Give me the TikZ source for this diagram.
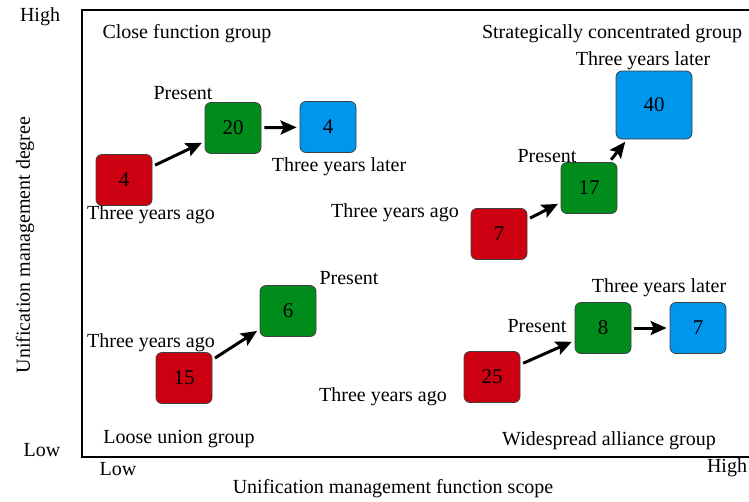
\documentclass[tikz,border=0pt]{standalone}
\usepackage{fontspec}
\setmainfont{Liberation Serif}
\usetikzlibrary{arrows.meta}
\definecolor{boxred}{RGB}{204,0,16}
\definecolor{boxgreen}{RGB}{0,140,26}
\definecolor{boxblue}{RGB}{0,150,235}

\begin{document}
\begin{tikzpicture}[x=1pt,y=-1pt,
	box/.style={draw=black!75,line width=0.8pt,rounded corners=6pt,minimum width=56pt,minimum height=51pt,inner sep=0pt,font=\fontsize{21}{21}\selectfont},
	lbl/.style={inner sep=0pt,font=\fontsize{20}{20}\selectfont},
	go/.style={-{Stealth[length=16pt,width=14pt,inset=3pt]},line width=3pt,shorten <=3pt,shorten >=3pt}]
	\useasboundingbox (0,0) rectangle (749,501);
	\fill[white] (0,0) rectangle (749,501);
	% frame
	\draw[line width=2pt] (749,10) -- (82,10) -- (82,457) -- (749,457);
	\node[lbl] (hy) at (40,17) {High};
	\node[lbl] (ly) at (42,450) {Low};
	\node[lbl] (lx) at (118,469) {Low};
	\node[lbl] (hx) at (727,468) {High};
	\node[lbl] (tx) at (393,489) {Unification management function scope};
	\node[lbl,rotate=90] (ty) at (25,245) {Unification management degree};
	% close function group
	\node[lbl] (c0) at (187,34) {Close function group};
	\node[box,fill=boxred] (c1) at (124,180) {4};
	\node[box,fill=boxgreen] (c2) at (233,128) {20};
	\node[box,fill=boxblue] (c3) at (328,127) {4};
	\node[lbl] (c1t) at (151,215) {Three years ago};
	\node[lbl] (c2t) at (183,93) {Present};
	\node[lbl] (c3t) at (339,167) {Three years later};
	\draw[go] (c1) -- (c2);
	\draw[go] (c2) -- (c3);
	% loose union group
	\node[lbl] (l0) at (179,439) {Loose union group};
	\node[box,fill=boxred] (l1) at (184,378) {15};
	\node[box,fill=boxgreen] (l2) at (288,311) {6};
	\node[lbl] (l1t) at (151,343) {Three years ago};
	\node[lbl] (l2t) at (349,278) {Present};
	\draw[go] (l1) -- (l2);
	% strategically concentrated group
	\node[lbl] (s0) at (612,34) {Strategically concentrated group};
	\node[box,fill=boxred] (s1) at (499,234) {7};
	\node[box,fill=boxgreen] (s2) at (589,188) {17};
	\node[box,fill=boxblue,minimum width=76pt,minimum height=68pt] (s3) at (654,105) {40};
	\node[lbl] (s1t) at (395,213) {Three years ago};
	\node[lbl] (s2t) at (547,156) {Present};
	\node[lbl] (s3t) at (643,61) {Three years later};
	\draw[go] (s1) -- (s2);
	\draw[go] (s2) -- (s3);
	% widespread alliance group
	\node[lbl] (w0) at (609,441) {Widespread alliance group};
	\node[box,fill=boxred] (w1) at (492,377) {25};
	\node[box,fill=boxgreen] (w2) at (603,328) {8};
	\node[box,fill=boxblue] (w3) at (698,328) {7};
	\node[lbl] (w1t) at (383,397) {Three years ago};
	\node[lbl] (w2t) at (537,326) {Present};
	\node[lbl] (w3t) at (659,288) {Three years later};
	\draw[go] (w1) -- (w2);
	\draw[go] (w2) -- (w3);
\end{tikzpicture}
\end{document}
